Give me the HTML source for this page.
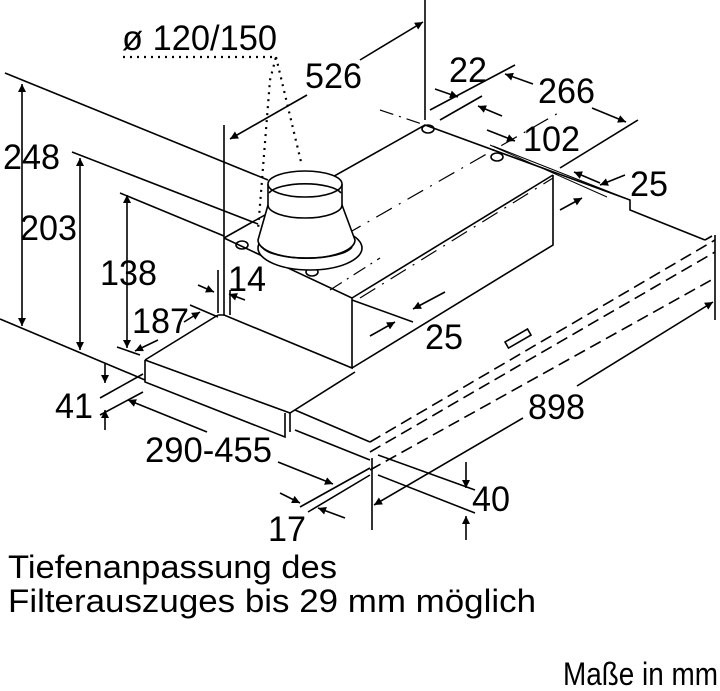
<!DOCTYPE html>
<html><head><meta charset="utf-8"><style>
html,body{margin:0;padding:0;background:#fff;width:720px;height:691px;overflow:hidden}
svg{display:block}
text{font-family:"Liberation Sans",sans-serif;fill:#000}
</style></head><body>
<svg width="720" height="691" viewBox="0 0 720 691" xmlns="http://www.w3.org/2000/svg">
<defs>
<marker id="a" viewBox="0 0 10 10" refX="10" refY="5" markerWidth="14" markerHeight="8" markerUnits="userSpaceOnUse" orient="auto-start-reverse"><path d="M0,0 L10,5 L0,10 z" fill="#000"/></marker>
</defs>
<g stroke="#000" stroke-width="1.6" fill="none">
<line x1="5" y1="73" x2="268" y2="180"/>
<line x1="72" y1="152" x2="258" y2="224"/>
<line x1="120" y1="193" x2="224" y2="236"/>
<line x1="0" y1="319" x2="145" y2="380"/>
<line x1="22" y1="84" x2="22" y2="326" marker-start="url(#a)" marker-end="url(#a)"/>
<line x1="80" y1="158" x2="80" y2="350" marker-start="url(#a)" marker-end="url(#a)"/>
<line x1="127" y1="195" x2="127" y2="348" marker-start="url(#a)" marker-end="url(#a)"/>
<line x1="224" y1="125" x2="224" y2="238"/>
<line x1="425" y1="0" x2="425" y2="120"/>
<line x1="307" y1="95" x2="230" y2="139" marker-end="url(#a)"/>
<line x1="360" y1="60" x2="423" y2="22" marker-end="url(#a)"/>
<path d="M123,57 H276 L270,80 L258,230 M276,57 L302,166" stroke-dasharray="2 5" stroke-width="2.2"/>
<path d="M224,238 V315 L352,368 V298 L224,238 M352,298 L553,175 M352,368 L553,245 V175 M224,238 L425,125 L630,200 V210 L705,240"/>
<path d="M493,146 L630,200" stroke-width="1"/>
<path d="M380,110 L425,125 M330,290 L380,258" stroke-dasharray="14 6 2 6" stroke-width="1.2"/>
<path d="M345,235 L560,112 M360,298 L553,178" stroke-dasharray="18 8 2 8" stroke-width="1.2"/>
<ellipse cx="428" cy="129" rx="6" ry="4"/><ellipse cx="497" cy="157" rx="6" ry="4"/>
<ellipse cx="242" cy="245" rx="6" ry="4"/><ellipse cx="312" cy="272" rx="6" ry="4"/>
<!-- chimney -->
<ellipse cx="310" cy="248" rx="52" ry="22" fill="#fff"/>
<path d="M268,205 L258,240 A48,18 0 0 0 355,240 L342,205 Z" fill="#fff"/>
<path d="M262,247 A46,14 0 0 0 352,247"/>
<path d="M268,184 V205 A37,13 0 0 0 342,205 V184" fill="#fff"/>
<ellipse cx="305" cy="184" rx="37" ry="13" fill="#fff"/>
<path d="M269,193 A37,12 0 0 1 341,193"/>
<!-- filter panel -->
<path d="M145,360 L290,413 L355,372 M145,360 L218,315 M145,360 V382 L285,437 V413 M218,315 L224,315"/>
<path d="M290,413 V432 M295,410 L370,442 M295,430 L370,460"/>
<line x1="230" y1="290" x2="230" y2="315"/>
<path d="M370,442 L715,240 M370,452 L715,252 M370,470 L715,278" stroke-dasharray="12 6"/>
<path d="M715,235 V320"/>
<path d="M705,240 L712,236"/>
<rect x="0" y="0" width="26" height="7" transform="translate(505,342) rotate(-30)"/>
<line x1="372" y1="458" x2="372" y2="530"/>
<line x1="523" y1="418" x2="374" y2="505" marker-end="url(#a)"/>
<line x1="577" y1="386" x2="713" y2="302" marker-end="url(#a)"/>
<line x1="378" y1="455" x2="475" y2="490"/>
<line x1="378" y1="475" x2="475" y2="513"/>
<line x1="466" y1="462" x2="466" y2="488" marker-end="url(#a)"/>
<line x1="466" y1="540" x2="466" y2="516" marker-end="url(#a)"/>
<line x1="100" y1="398" x2="143" y2="374"/>
<line x1="100" y1="415" x2="143" y2="392"/>
<line x1="207" y1="432" x2="128" y2="400" marker-end="url(#a)"/>
<line x1="278" y1="462" x2="333" y2="484" marker-end="url(#a)"/>
<line x1="300" y1="507" x2="370" y2="468"/>
<line x1="308" y1="512" x2="370" y2="475"/>
<line x1="280" y1="493" x2="300" y2="503" marker-end="url(#a)"/>
<line x1="345" y1="518" x2="318" y2="508" marker-end="url(#a)"/>
<line x1="105" y1="364" x2="105" y2="383" marker-end="url(#a)"/>
<line x1="105" y1="430" x2="105" y2="410" marker-end="url(#a)"/>
<line x1="190" y1="305" x2="218" y2="317"/>
<line x1="117" y1="347" x2="140" y2="355"/>
<line x1="158" y1="340" x2="135" y2="351" marker-end="url(#a)"/>
<line x1="184" y1="322" x2="200" y2="312" marker-end="url(#a)"/>
<line x1="198" y1="285" x2="214" y2="292" marker-end="url(#a)"/>
<line x1="245" y1="300" x2="229" y2="294" marker-end="url(#a)"/>
<line x1="218" y1="270" x2="218" y2="313"/>
<line x1="352" y1="300" x2="413" y2="322"/>
<line x1="445" y1="292" x2="413" y2="309" marker-end="url(#a)"/>
<line x1="370" y1="336" x2="395" y2="322" marker-end="url(#a)"/>
<line x1="430" y1="110" x2="515" y2="65"/>
<line x1="440" y1="120" x2="482" y2="96"/>
<line x1="560" y1="168" x2="638" y2="120"/>
<line x1="435" y1="89" x2="458" y2="97" marker-end="url(#a)"/>
<line x1="502" y1="116" x2="478" y2="106" marker-end="url(#a)"/>
<line x1="533" y1="84" x2="505" y2="74" marker-end="url(#a)"/>
<line x1="592" y1="108" x2="626" y2="122" marker-end="url(#a)"/>
<line x1="487" y1="130" x2="515" y2="141" marker-end="url(#a)"/>
<line x1="600" y1="183" x2="574" y2="172" marker-end="url(#a)"/>
<line x1="625" y1="175" x2="600" y2="185" marker-end="url(#a)"/>
<line x1="560" y1="210" x2="582" y2="198" marker-end="url(#a)"/>
<line x1="490" y1="145" x2="607" y2="197" stroke-width="1"/>
</g>
<g font-size="35">
<text x="122" y="50" textLength="155" lengthAdjust="spacingAndGlyphs">ø 120/150</text>
<text x="305" y="88" textLength="57" lengthAdjust="spacingAndGlyphs">526</text>
<text x="449" y="82" textLength="38" lengthAdjust="spacingAndGlyphs">22</text>
<text x="538" y="103" textLength="57" lengthAdjust="spacingAndGlyphs">266</text>
<text x="523" y="151" textLength="57" lengthAdjust="spacingAndGlyphs">102</text>
<text x="630" y="196" textLength="38" lengthAdjust="spacingAndGlyphs">25</text>
<text x="3" y="169" textLength="57" lengthAdjust="spacingAndGlyphs">248</text>
<text x="20" y="240" textLength="57" lengthAdjust="spacingAndGlyphs">203</text>
<text x="100" y="285" textLength="57" lengthAdjust="spacingAndGlyphs">138</text>
<text x="228" y="291" textLength="38" lengthAdjust="spacingAndGlyphs">14</text>
<text x="132" y="333" textLength="57" lengthAdjust="spacingAndGlyphs">187</text>
<text x="425" y="349" textLength="38" lengthAdjust="spacingAndGlyphs">25</text>
<text x="55" y="418" textLength="38" lengthAdjust="spacingAndGlyphs">41</text>
<text x="528" y="419" textLength="57" lengthAdjust="spacingAndGlyphs">898</text>
<text x="145" y="462" textLength="127" lengthAdjust="spacingAndGlyphs">290-455</text>
<text x="472" y="511" textLength="38" lengthAdjust="spacingAndGlyphs">40</text>
<text x="268" y="541" textLength="38" lengthAdjust="spacingAndGlyphs">17</text>
</g>
<g font-size="32">
<text x="8" y="578" textLength="329" lengthAdjust="spacingAndGlyphs">Tiefenanpassung des</text>
<text x="8" y="612" textLength="528" lengthAdjust="spacingAndGlyphs">Filterauszuges bis 29 mm möglich</text>
<text x="563" y="685" textLength="155" lengthAdjust="spacingAndGlyphs">Maße in mm</text>
</g>
</svg>
</body></html>
